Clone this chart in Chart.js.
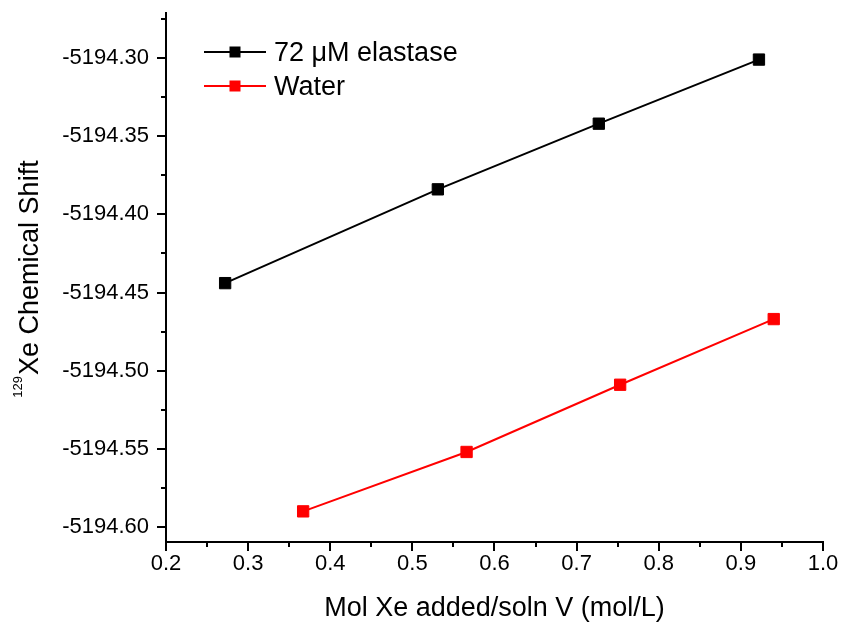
<!DOCTYPE html>
<html>
<head>
<meta charset="utf-8">
<script src="https://cdn.jsdelivr.net/npm/chart.js@4/dist/chart.umd.min.js"></script>
<style>
  html, body { margin: 0; padding: 0; background: #fff; }
  #wrap { width: 843px; height: 624px; position: relative; }
</style>
</head>
<body>
<div id="wrap"><canvas id="c" width="843" height="624"></canvas></div>
<script>
// Xe added per solution volume (mol/L) and the measured 129Xe chemical shift
const elastaseX = [0.272, 0.531, 0.727, 0.922];
const elastaseY = [-5194.444, -5194.384, -5194.342, -5194.301];
const waterX = [0.367, 0.566, 0.753, 0.940];
const waterY = [-5194.590, -5194.552, -5194.509, -5194.467];

const seriesNames = ['72 \u03BCM elastase', 'Water'];
const seriesColors = ['#000000', '#ff0000'];

const xTicks = [0.2, 0.3, 0.4, 0.5, 0.6, 0.7, 0.8, 0.9, 1.0];
const xMinorTicks = [0.25, 0.35, 0.45, 0.55, 0.65, 0.75, 0.85, 0.95];
const yTicks = [-5194.60, -5194.55, -5194.50, -5194.45, -5194.40, -5194.35, -5194.30];
const yMinorTicks = [-5194.575, -5194.525, -5194.475, -5194.425, -5194.375, -5194.325, -5194.275];

const xTitle = 'Mol Xe added/soln V (mol/L)';
const yTitleSup = '129';
const yTitleMain = 'Xe Chemical Shift';

const FONT = "'Liberation Sans', Arial, Helvetica, sans-serif";

const toPoints = (xs, ys) => xs.map((x, i) => ({ x: x, y: ys[i] }));

// Minor ticks, axis titles and the line+marker legend
const decorations = {
  id: 'decorations',
  afterDraw(chart) {
    const ctx = chart.ctx;
    const area = chart.chartArea;
    const xs = chart.scales.x, ys = chart.scales.y;
    ctx.save();
    ctx.strokeStyle = '#000';
    ctx.lineWidth = 2;
    ctx.beginPath();
    xMinorTicks.forEach(v => {
      const px = Math.round(xs.getPixelForValue(v));
      ctx.moveTo(px, area.bottom);
      ctx.lineTo(px, area.bottom + 5);
    });
    yMinorTicks.forEach(v => {
      const py = Math.round(ys.getPixelForValue(v));
      ctx.moveTo(area.left, py);
      ctx.lineTo(area.left - 5, py);
    });
    ctx.stroke();

    // x axis title
    ctx.fillStyle = '#000';
    ctx.font = '27px ' + FONT;
    ctx.textAlign = 'center';
    ctx.textBaseline = 'alphabetic';
    ctx.fillText(xTitle, (area.left + area.right) / 2, 616);

    // y axis title with superscript mass number
    ctx.save();
    ctx.translate(38, 279);
    ctx.rotate(-Math.PI / 2);
    ctx.font = '27px ' + FONT;
    const mainW = ctx.measureText(yTitleMain).width;
    ctx.font = '13px ' + FONT;
    const supW = ctx.measureText(yTitleSup).width;
    const total = mainW + supW + 1;
    const start = -total / 2;
    ctx.textAlign = 'left';
    ctx.fillText(yTitleSup, start, -16);
    ctx.font = '27px ' + FONT;
    ctx.fillText(yTitleMain, start + supW + 1, 0);
    ctx.restore();

    // legend
    const rows = [52, 86];
    rows.forEach((y, i) => {
      ctx.strokeStyle = seriesColors[i];
      ctx.lineWidth = 2;
      ctx.beginPath();
      ctx.moveTo(204, y);
      ctx.lineTo(266, y);
      ctx.stroke();
      ctx.fillStyle = seriesColors[i];
      ctx.fillRect(235 - 5.5, y - 5.5, 11, 11);
      ctx.fillStyle = '#000';
      ctx.font = '27px ' + FONT;
      ctx.textAlign = 'left';
      ctx.textBaseline = 'alphabetic';
      ctx.fillText(seriesNames[i], 274, y + 9);
    });
    ctx.restore();
  }
};

new Chart(document.getElementById('c'), {
  type: 'line',
  data: {
    datasets: [
      {
        label: seriesNames[0],
        data: toPoints(elastaseX, elastaseY),
        borderColor: seriesColors[0],
        backgroundColor: seriesColors[0],
        pointBorderColor: seriesColors[0],
        borderWidth: 2,
        pointStyle: 'rect',
        pointRadius: 8,
        pointBorderWidth: 1,
        tension: 0,
        fill: false
      },
      {
        label: seriesNames[1],
        data: toPoints(waterX, waterY),
        borderColor: seriesColors[1],
        backgroundColor: seriesColors[1],
        pointBorderColor: seriesColors[1],
        borderWidth: 2,
        pointStyle: 'rect',
        pointRadius: 8,
        pointBorderWidth: 1,
        tension: 0,
        fill: false
      }
    ]
  },
  options: {
    responsive: false,
    animation: false,
    layout: { padding: { left: 0, right: 20, top: 13, bottom: 0 } },
    plugins: {
      legend: { display: false },
      tooltip: { enabled: false },
      title: { display: false }
    },
    scales: {
      x: {
        type: 'linear',
        min: 0.2,
        max: 1.0,
        afterBuildTicks: s => { s.ticks = xTicks.map(v => ({ value: v })); },
        afterFit: s => { s.height = 82; s.paddingLeft = 0; s.paddingRight = 0; },
        border: { display: true, color: '#000', width: 2 },
        grid: { display: true, drawOnChartArea: false, drawTicks: true, tickLength: 9, color: '#000', lineWidth: 2 },
        ticks: {
          color: '#000',
          font: { family: FONT, size: 22 },
          padding: 0,
          maxRotation: 0,
          autoSkip: false,
          callback: v => Number(v).toFixed(1)
        }
      },
      y: {
        type: 'linear',
        min: -5194.6096,
        max: -5194.2712,
        afterBuildTicks: s => { s.ticks = yTicks.map(v => ({ value: v })); },
        afterFit: s => { s.width = 166; s.paddingTop = 0; s.paddingBottom = 0; },
        border: { display: true, color: '#000', width: 2 },
        grid: { display: true, drawOnChartArea: false, drawTicks: true, tickLength: 9, color: '#000', lineWidth: 2 },
        ticks: {
          color: '#000',
          font: { family: FONT, size: 22 },
          padding: 8,
          autoSkip: false,
          callback: v => Number(v).toFixed(2)
        }
      }
    }
  },
  plugins: [decorations]
});
</script>
</body>
</html>
